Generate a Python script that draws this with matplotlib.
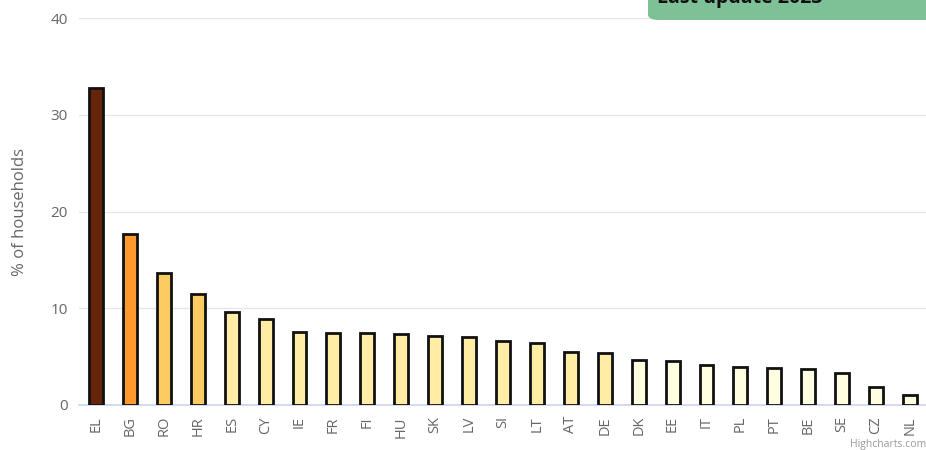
import numpy as np
import matplotlib
matplotlib.use('Agg')
import matplotlib.pyplot as plt
from matplotlib.patches import FancyBboxPatch

plt.rcParams['font.family'] = ['Open Sans', 'DejaVu Sans']

# datos
paises = ['EL', 'BG', 'RO', 'HR', 'ES', 'CY', 'IE', 'FR', 'FI', 'HU', 'SK', 'LV', 'SI',
          'LT', 'AT', 'DE', 'DK', 'EE', 'IT', 'PL', 'PT', 'BE', 'SE', 'CZ', 'NL']
valores = [32.8, 17.7, 13.6, 11.5, 9.6, 8.9, 7.5, 7.4, 7.4, 7.3, 7.1, 7.0, 6.6,
           6.4, 5.5, 5.4, 4.65, 4.5, 4.1, 3.95, 3.8, 3.7, 3.3, 1.85, 1.05]

# escala de colores por rango de valor
limites = [5, 10, 15, 20]
paleta = ['#fffee0', '#ffeda5', '#fdcb62', '#fd992d', '#66250a']

def color(v):
    i = 0
    for l in limites:
        if v >= l:
            i += 1
    return paleta[i]

colores = [color(v) for v in valores]

fig = plt.figure(figsize=(9.26, 4.5), dpi=100)
ax = fig.add_axes([79/926, 45/450, 848/926, 387/450])

x = np.arange(len(paises))
ax.bar(x, valores, width=0.41, color=colores, edgecolor='#111111', linewidth=2.0, zorder=3)

ax.set_xlim(-0.5, len(paises) - 0.5)
ax.set_ylim(0, 40)
ax.set_yticks([0, 10, 20, 30, 40])
ax.grid(axis='y', color='#e6e6e6', linewidth=1, zorder=0)
for s in ['top', 'right', 'left']:
    ax.spines[s].set_visible(False)
ax.spines['bottom'].set_color('#ccd6eb')
ax.spines['bottom'].set_linewidth(1.2)

ax.set_xticks(x)
ax.set_xticklabels(paises, rotation=90, fontsize=10.5, color='#666666')
ax.tick_params(axis='x', length=0, pad=8)
ax.tick_params(axis='y', length=0, pad=8, labelsize=11, labelcolor='#666666')

ax.set_ylabel('% of households', fontsize=12, color='#666666', labelpad=16)

# recuadro verde de arriba (cortado)
caja = FancyBboxPatch((648/926, 1 - 20/450), 0.4, 0.2, transform=fig.transFigure,
                      boxstyle='round,pad=0,rounding_size=0.012',
                      facecolor='#7fc197', edgecolor='none', clip_on=False)
fig.patches.append(caja)
fig.text(657/926, 1 - 3/450, 'Last update 2023', fontsize=14, fontweight='bold',
         color='#111111', va='baseline', ha='left')

fig.text(926/926, 1 - 445/450, 'Highcharts.com', fontsize=7.5, color='#999999',
         ha='right', va='center')

plt.savefig('out.png', dpi=100)
